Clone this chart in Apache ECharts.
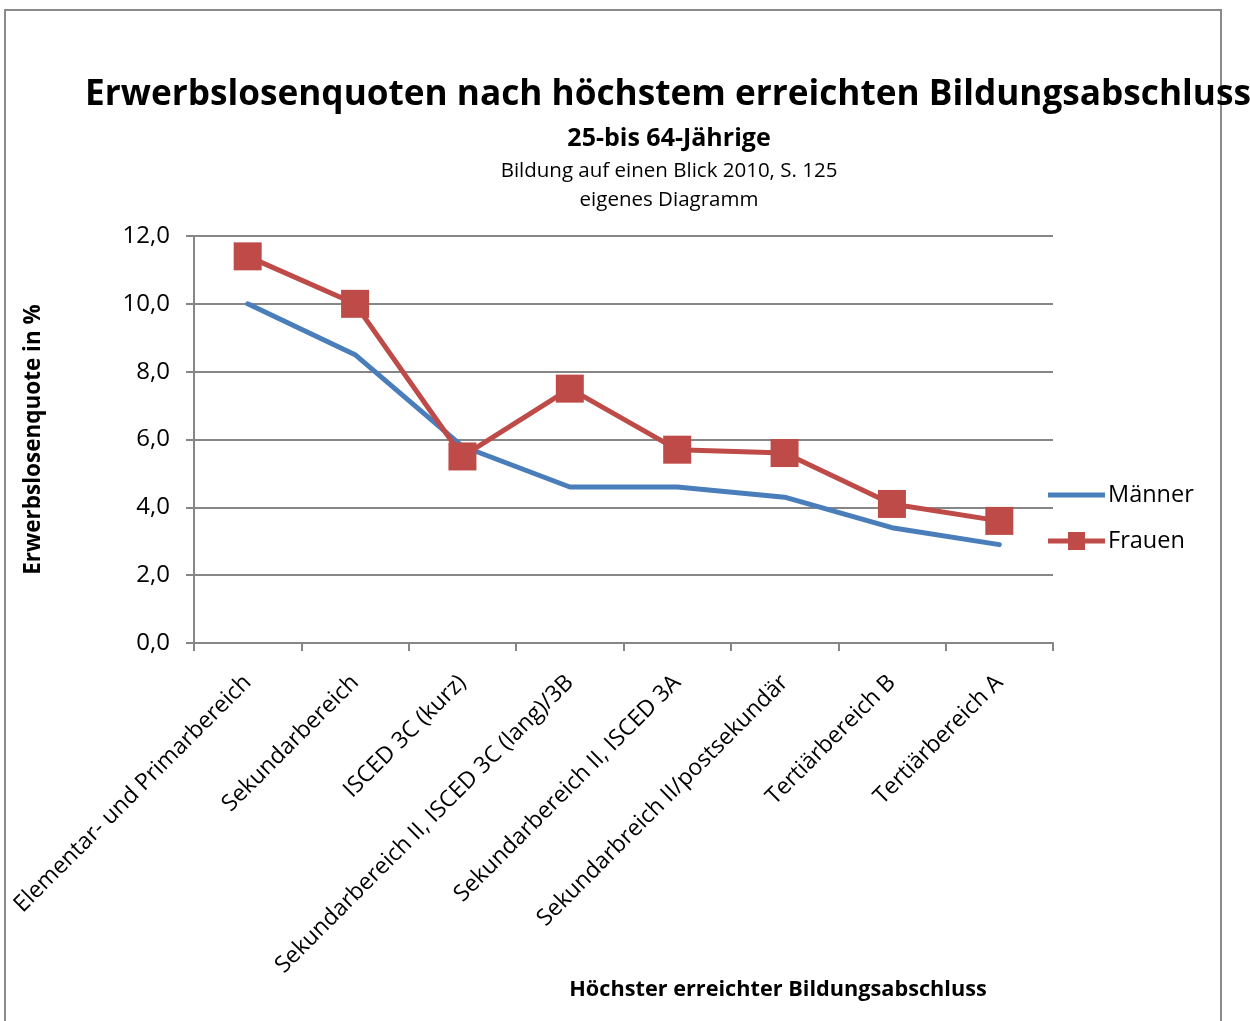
<!DOCTYPE html>
<html>
<head>
<meta charset="utf-8">
<script src="https://cdn.jsdelivr.net/npm/echarts@6/dist/echarts.min.js"></script>
<style>
  html, body { margin: 0; padding: 0; background: #fff; }
  #chart { width: 1250px; height: 1021px; }
</style>
</head>
<body>
<div id="chart"></div>
<script>
// categories and values
const categories = [
  'Elementar- und Primarbereich',
  'Sekundarbereich',
  'ISCED 3C (kurz)',
  'Sekundarbereich II, ISCED 3C (lang)/3B',
  'Sekundarbereich II, ISCED 3A',
  'Sekundarbreich II/postsekundär',
  'Tertiärbereich B',
  'Tertiärbereich A'
];
const maenner = [10.0, 8.5, 5.8, 4.6, 4.6, 4.3, 3.4, 2.9];
const frauen = [11.4, 10.0, 5.5, 7.5, 5.7, 5.6, 4.1, 3.6];
const yTicks = { min: 0, max: 12, interval: 2 };

const font = '"Open Sans", sans-serif';
const grey = '#868686';
const blue = '#4A7EBB';
const red = '#BE4B48';

let chart = echarts.init(document.getElementById('chart'));
chart.setOption({
  animation: false,
  backgroundColor: '#fff',
  textStyle: { fontFamily: font, color: '#000' },
  title: [
    {
      text: 'Erwerbslosenquoten nach höchstem erreichten Bildungsabschluss',
      left: 663, top: 72, textAlign: 'center',
      textStyle: { fontSize: 35.2, fontWeight: 'bold', color: '#000', fontFamily: font }
    },
    {
      text: '25-bis 64-Jährige',
      left: 664, top: 121, textAlign: 'center',
      textStyle: { fontSize: 25, fontWeight: 'bold', color: '#000', fontFamily: font }
    },
    {
      text: 'Bildung auf einen Blick 2010, S. 125\neigenes Diagramm',
      left: 664, top: 152, textAlign: 'center',
      textStyle: { fontSize: 20.5, fontWeight: 'normal', color: '#000', fontFamily: font, lineHeight: 29 }
    },
    {
      text: 'Höchster erreichter Bildungsabschluss',
      left: 773, top: 974, textAlign: 'center',
      textStyle: { fontSize: 21.7, fontWeight: 'bold', color: '#000', fontFamily: font }
    }
  ],
  graphic: [
    {
      type: 'rect',
      shape: { x: 5, y: 10, width: 1216, height: 1030 },
      style: { fill: 'none', stroke: '#8a8a8a', lineWidth: 2 },
      z: -1
    }
  ],
  legend: {
    orient: 'vertical',
    left: 1048, top: 483,
    padding: 0,
    itemWidth: 57, itemHeight: 18,
    itemGap: 22,
    textStyle: { fontSize: 23.5, color: '#000', fontFamily: font, padding: [0, 0, 0, -2] },
    data: [
      { name: 'Männer', icon: 'path://M0,0 L57,0 L57,5 L0,5 Z' },
      { name: 'Frauen', icon: 'path://M0,6.5 L57,6.5 L57,11.5 L0,11.5 Z M20,0 L37,0 L37,18 L20,18 Z' }
    ]
  },
  grid: { left: 194, right: 197, top: 236, bottom: 378 },
  xAxis: {
    type: 'category',
    data: categories,
    boundaryGap: true,
    axisLine: { lineStyle: { color: grey, width: 2 } },
    axisTick: { show: true, length: 8, lineStyle: { color: grey, width: 2 } },
    axisLabel: { rotate: 45, interval: 0, fontSize: 23, color: '#000', margin: 36, fontFamily: font }
  },
  yAxis: {
    type: 'value',
    min: yTicks.min, max: yTicks.max, interval: yTicks.interval,
    name: 'Erwerbslosenquote in %',
    nameLocation: 'middle',
    nameGap: 149,
    nameRotate: 90,
    nameTextStyle: { fontSize: 22.5, fontWeight: 'bold', color: '#000', fontFamily: font },
    axisLine: { show: true, lineStyle: { color: grey, width: 2 } },
    axisTick: { show: true, length: 8, lineStyle: { color: grey, width: 2 } },
    axisLabel: {
      fontSize: 24, color: '#000', margin: 24, fontFamily: font,
      formatter: v => v.toFixed(1).replace('.', ',')
    },
    splitLine: { lineStyle: { color: grey, width: 2 } }
  },
  series: [
    {
      name: 'Männer',
      type: 'line',
      data: maenner,
      symbol: 'none',
      color: blue,
      lineStyle: { width: 5, color: blue, cap: 'round' }
    },
    {
      name: 'Frauen',
      type: 'line',
      data: frauen,
      symbol: 'rect',
      symbolSize: 28,
      color: red,
      itemStyle: { color: red },
      lineStyle: { width: 5, color: red }
    }
  ]
});
</script>
</body>
</html>
